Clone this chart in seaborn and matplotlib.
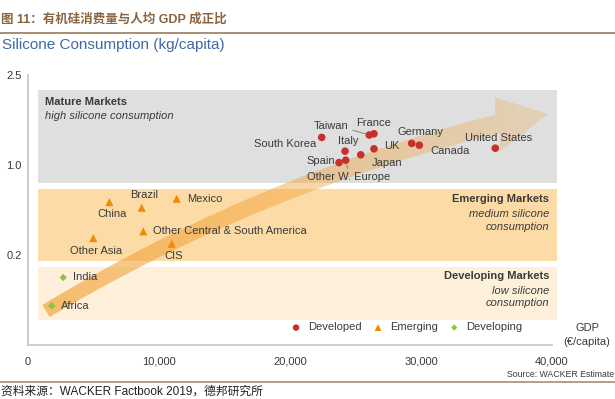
import numpy as np
import pandas as pd
import matplotlib
matplotlib.use("Agg")
import matplotlib.pyplot as plt
from matplotlib.patches import Polygon
from matplotlib.lines import Line2D
import seaborn as sns

# ---------------- data ----------------
developed_names = ["South Korea", "Taiwan", "France", "Italy", "Spain", "Other W. Europe",
                   "Japan", "UK", "Germany", "Canada", "United States"]
developed_gdp = [22420, 26050, 26410, 24200, 23740, 24250, 25400, 26410, 29290, 29870, 35670]
developed_kg = [1.46, 1.50, 1.52, 1.23, 1.04, 1.08, 1.17, 1.27, 1.36, 1.33, 1.28]

emerging_names = ["China", "Brazil", "Mexico", "Other Central & South America", "Other Asia", "CIS"]
emerging_gdp = [6210, 8680, 11350, 8800, 4980, 10970]
emerging_kg = [0.67, 0.62, 0.70, 0.41, 0.35, 0.30]

developing_names = ["India", "Africa"]
developing_gdp = [2690, 1810]
developing_kg = [0.15, 0.087]

groups = ["Developed", "Emerging", "Developing"]
band_titles = ["Mature Markets", "Emerging Markets", "Developing Markets"]
band_subtitles = ["high silicone consumption", "medium silicone\nconsumption", "low silicone\nconsumption"]
band_lo = [0.84, 0.187, 0.056]
band_hi = [2.25, 0.79, 0.173]
band_gdp = [790, 40350]

y_ticks = [0.2, 1.0, 2.5]
y_ticklabels = ["0.2", "1.0", "2.5"]
x_ticks = [0, 10000, 20000, 30000, 40000]
x_ticklabels = ["0", "10,000", "20,000", "30,000", "40,000"]

# ---------------- styles / layout ----------------
RED, ORANGE, GREEN = "#c8312b", "#f18a00", "#8cc43f"
BAND_COLORS = ["#dfdfdf", "#fddba6", "#fff0dc"]
TXT = "#3a3a3a"
W, H = 615, 399

# label offsets in pixels (dx, dy-up), horizontal alignment
dev_off = {"South Korea": (-5, -7, "right"), "Taiwan": (-38.6, 8.7, "center"),
           "France": (-0.7, 11, "center"), "Italy": (3.3, 10.7, "center"),
           "Spain": (-4, 1.3, "right"), "Other W. Europe": (2.6, -16.6, "center"),
           "Japan": (26, -7.7, "center"), "UK": (18.3, 2.4, "center"),
           "Germany": (8.3, 11, "center"), "Canada": (30.7, -6, "center"),
           "United States": (3, 10.3, "center")}
emg_off = {"China": (3, -12.3, "center"), "Brazil": (2.3, 12.3, "center"),
           "Mexico": (10, -0.7, "left"), "Other Central & South America": (9.4, 0, "left"),
           "Other Asia": (2.4, -12.4, "center"), "CIS": (2.3, -12.4, "center")}
dvg_off = {"India": (10, 0, "left"), "Africa": (9.3, 0, "left")}

sns.set_theme(style="white")
plt.rcParams["font.family"] = ["Liberation Sans", "Noto Sans CJK SC", "DejaVu Sans"]

fig = plt.figure(figsize=(W / 100, H / 100), dpi=100)
AX_L, AX_R, AX_T, AX_B = 28, 556.6, 75, 345
ax = fig.add_axes([AX_L / W, 1 - AX_B / H, (AX_R - AX_L) / W, (AX_B - AX_T) / H])

# piecewise-linear y axis (0.2, 1.0, 2.5 equally spaced)
KN = [-100, 0, 0.2, 1.0, 2.5, 100]
LV = [-500, 0, 1, 2, 3, 3 + 97.5 / 1.5]
def fwd(v):
    return np.interp(np.asarray(v, dtype=float), KN, LV)
def inv(u):
    return np.interp(np.asarray(u, dtype=float), LV, KN)
ax.set_yscale("function", functions=(fwd, inv))

# bands
for lo, hi, col in zip(band_lo, band_hi, BAND_COLORS):
    ax.fill_between(band_gdp, [lo, lo], [hi, hi], color=col, lw=0, zorder=0.2)

# arrow (decorative), built in pixel space then mapped to axes fraction
P0 = np.array([46, 311.]); C = np.array([257.7, 184.]); P2 = np.array([497.5, 124.])
t = np.linspace(0, 1, 80)
B = ((1 - t) ** 2)[:, None] * P0 + (2 * t * (1 - t))[:, None] * C + (t ** 2)[:, None] * P2
D = 2 * (1 - t)[:, None] * (C - P0) + 2 * t[:, None] * (P2 - C)
D /= np.linalg.norm(D, axis=1)[:, None]
N = np.column_stack([D[:, 1], -D[:, 0]])
wid = 14 + 5 * t
upper = B + N * (wid / 2)[:, None]
lower = B - N * (wid / 2)[:, None]
head = np.array([[495, 97.3], [548.3, 114], [500, 151.3]])
pts = np.vstack([upper, head, lower[::-1]])
axpts = np.column_stack([(pts[:, 0] - AX_L) / (AX_R - AX_L), (AX_B - pts[:, 1]) / (AX_B - AX_T)])
poly = Polygon(axpts, closed=True, transform=ax.transAxes, facecolor="none", edgecolor="none")
ax.add_patch(poly)
grad = np.zeros((2, 256, 4))
grad[..., 0] = 240 / 255; grad[..., 1] = 160 / 255; grad[..., 2] = 50 / 255
grad[..., 3] = np.linspace(0.66, 0.22, 256)[None, :]
im = ax.imshow(grad, extent=[0, 1, 0, 1], transform=ax.transAxes, aspect="auto",
               interpolation="bilinear", zorder=1)
im.set_clip_path(poly)

# points
sns.scatterplot(x=developed_gdp, y=developed_kg, ax=ax, marker="o", s=30, color=RED,
                edgecolor="none", linewidth=0, label=groups[0], zorder=3)
sns.scatterplot(x=emerging_gdp, y=emerging_kg, ax=ax, marker="^", s=34, color=ORANGE,
                edgecolor="none", linewidth=0, label=groups[1], zorder=3)
sns.scatterplot(x=developing_gdp, y=developing_kg, ax=ax, marker="D", s=14, color=GREEN,
                edgecolor="none", linewidth=0, label=groups[2], zorder=3)

def put_labels(names, xs, ys, offs):
    for n, x, y in zip(names, xs, ys):
        dx, dy, ha = offs[n]
        kw = {}
        if n == "Taiwan":
            kw["arrowprops"] = dict(arrowstyle="-", color="#7a7a7a", lw=0.6,
                                    shrinkA=1, shrinkB=2.5, relpos=(1, 0.25))
        if n == "Other W. Europe":
            kw["arrowprops"] = dict(arrowstyle="-", color="#7a7a7a", lw=0.6,
                                    shrinkA=0, shrinkB=3.5, relpos=(0.5, 1))
        ax.annotate(n, (x, y), xytext=(dx, dy), textcoords="offset pixels",
                    ha=ha, va="center", fontsize=8, color=TXT, zorder=4, **kw)

put_labels(developed_names, developed_gdp, developed_kg, dev_off)
put_labels(emerging_names, emerging_gdp, emerging_kg, emg_off)
put_labels(developing_names, developing_gdp, developing_kg, dvg_off)

# band texts (pixel positions)
def fx(px):
    return px / W
def fy(py):
    return 1 - py / H
fig.text(fx(45), fy(101.7), band_titles[0], fontsize=8, fontweight="bold", color=TXT, va="center")
fig.text(fx(45), fy(115.7), band_subtitles[0], fontsize=8, style="italic", color=TXT, va="center")
fig.text(fx(549.5), fy(199.3), band_titles[1], fontsize=8, fontweight="bold", color=TXT, va="center", ha="right")
fig.text(fx(549.5), fy(220.3), band_subtitles[1], fontsize=8, style="italic", color=TXT, va="center",
         ha="right", multialignment="right", linespacing=1.35)
fig.text(fx(549.5), fy(275.7), band_titles[2], fontsize=8, fontweight="bold", color=TXT, va="center", ha="right")
fig.text(fx(549.5), fy(297), band_subtitles[2], fontsize=8, style="italic", color=TXT, va="center",
         ha="right", multialignment="right", linespacing=1.35)

# axes styling
ax.set_xlim(0, 40350)
ax.set_ylim(0, 2.5)
ax.set_xticks(x_ticks)
ax.set_xticklabels(x_ticklabels)
ax.set_yticks(y_ticks)
ax.set_yticklabels(y_ticklabels)
ax.yaxis.set_minor_locator(matplotlib.ticker.NullLocator())
ax.tick_params(axis="x", length=0, pad=8.5, labelsize=8, labelcolor=TXT)
ax.tick_params(axis="y", length=0, pad=4.5, labelsize=8, labelcolor=TXT)
ax.set_xlabel(""); ax.set_ylabel("")
ax.grid(False)
for s in ["top", "right"]:
    ax.spines[s].set_visible(False)
for s in ["left", "bottom"]:
    ax.spines[s].set_color("#c9c9c9")
    ax.spines[s].set_linewidth(1.3)
ax.spines["bottom"].set_bounds(0, 40000)
ax.set_facecolor("white")

leg = ax.legend(ncol=3, frameon=False, loc="center left",
                bbox_to_anchor=(fx(290.5), fy(327.5)), bbox_transform=fig.transFigure,
                fontsize=8, handletextpad=0.6, columnspacing=0.95, handlelength=1.0,
                borderpad=0, borderaxespad=0, markerscale=0.85)
for txt in leg.get_texts():
    txt.set_color(TXT)

fig.text(fx(587), fy(328), "GDP", fontsize=8, color=TXT, ha="center", va="center")
fig.text(fx(587), fy(342), "(€/capita)", fontsize=8, color=TXT, ha="center", va="center")
fig.text(fx(614), fy(374.5), "Source: WACKER Estimate", fontsize=6.3, color=TXT, ha="right", va="center")

# headers / footers
fig.text(fx(1), fy(19), "图 11：有机硅消费量与人均 GDP 成正比", fontsize=9, fontweight="bold",
         color="#8b6440", ha="left", va="center")
fig.add_artist(Line2D([0, 1], [fy(32.5)] * 2, color="#a88e73", lw=1.4, transform=fig.transFigure))
fig.text(fx(2), fy(45.5), "Silicone Consumption (kg/capita)", fontsize=11, color="#3f69a5",
         ha="left", va="center")
fig.add_artist(Line2D([0, 1], [fy(381.5)] * 2, color="#a88e73", lw=1.2, transform=fig.transFigure))
fig.text(fx(1), fy(391.5), "资料来源：WACKER Factbook 2019，德邦研究所", fontsize=8.5, color="#222222",
         ha="left", va="center")

fig.savefig("out.png", dpi=100)
